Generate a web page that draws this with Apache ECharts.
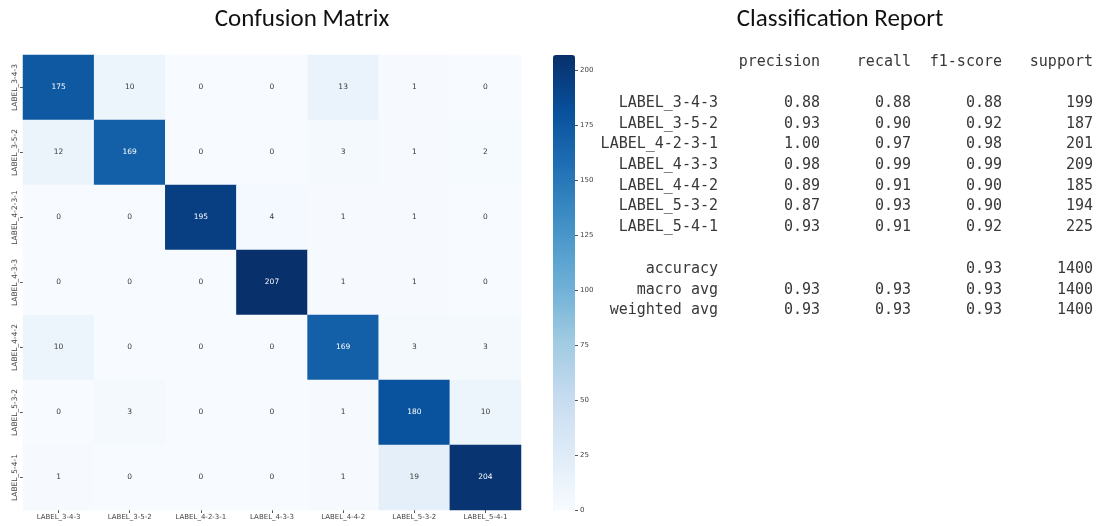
<!DOCTYPE html>
<html>
<head>
<meta charset="utf-8">
<script src="https://cdn.jsdelivr.net/npm/echarts@6/dist/echarts.min.js"></script>
<style>
  html, body { margin: 0; padding: 0; background: #fff; }
  #chart { width: 1100px; height: 526px; }
</style>
</head>
<body>
<div id="chart"></div>
<script>
// Class labels (rows = true label, columns = predicted label)
const categories = ['LABEL_3-4-3', 'LABEL_3-5-2', 'LABEL_4-2-3-1', 'LABEL_4-3-3', 'LABEL_4-4-2', 'LABEL_5-3-2', 'LABEL_5-4-1'];

// Confusion matrix counts, one row per true label
const confusionRows = [
  [175, 10, 0, 0, 13, 1, 0],
  [12, 169, 0, 0, 3, 1, 2],
  [0, 0, 195, 4, 1, 1, 0],
  [0, 0, 0, 207, 1, 1, 0],
  [10, 0, 0, 0, 169, 3, 3],
  [0, 3, 0, 0, 1, 180, 10],
  [1, 0, 0, 0, 1, 19, 204]
];

// Colour bar range and tick step (ticks 0, 25, ... 200)
const colorMin = 0;
const colorMax = 207;
const colorbarStep = 25;

// Classification report
const reportHeaders = ['precision', 'recall', 'f1-score', 'support'];
const precision = [0.88, 0.93, 1.00, 0.98, 0.89, 0.87, 0.93];
const recall    = [0.88, 0.90, 0.97, 0.99, 0.91, 0.93, 0.91];
const f1Score   = [0.88, 0.92, 0.98, 0.99, 0.90, 0.90, 0.92];
const support   = [199, 187, 201, 209, 185, 194, 225];
const summaryLabels    = ['accuracy', 'macro avg', 'weighted avg'];
const summaryPrecision = [null, 0.93, 0.93];
const summaryRecall    = [null, 0.93, 0.93];
const summaryF1        = [0.93, 0.93, 0.93];
const summarySupport   = [1400, 1400, 1400];

// matplotlib "Blues" colour stops
const blues = ['#f7fbff', '#deebf7', '#c6dbef', '#9ecae1', '#6baed6', '#4292c6', '#2171b5', '#08519c', '#08306b'];

const heatData = [];
confusionRows.forEach((row, r) => {
  row.forEach((v, c) => {
    heatData.push({
      value: [c, r, v],
      label: { color: v > colorMax / 2 ? '#ffffff' : '#3a3a3a' }
    });
  });
});

const axisFont = 'DejaVu Sans, sans-serif';
const monoFont = 'DejaVu Sans Mono, Liberation Mono, monospace';
const titleFont = 'Carlito, Lato, sans-serif';
const tickStyle = { color: '#555', width: 1 };

// Report text layout
const reportText = [];
const colRight = [820, 911, 1002, 1093];
const labelRight = 718;
const reportStyle = (text, x, y) => ({
  type: 'text', x: x, y: y,
  style: { text: text, font: '15px ' + monoFont, fill: '#383838', align: 'right', verticalAlign: 'middle' },
  silent: true
});
reportHeaders.forEach((h, i) => reportText.push(reportStyle(h, colRight[i], 62)));
categories.forEach((lab, i) => {
  const y = 103 + i * 20.7;
  reportText.push(reportStyle(lab, labelRight, y));
  reportText.push(reportStyle(precision[i].toFixed(2), colRight[0], y));
  reportText.push(reportStyle(recall[i].toFixed(2), colRight[1], y));
  reportText.push(reportStyle(f1Score[i].toFixed(2), colRight[2], y));
  reportText.push(reportStyle(String(support[i]), colRight[3], y));
});
summaryLabels.forEach((lab, i) => {
  const y = 269 + i * 20.7;
  reportText.push(reportStyle(lab, labelRight, y));
  if (summaryPrecision[i] !== null) reportText.push(reportStyle(summaryPrecision[i].toFixed(2), colRight[0], y));
  if (summaryRecall[i] !== null) reportText.push(reportStyle(summaryRecall[i].toFixed(2), colRight[1], y));
  reportText.push(reportStyle(summaryF1[i].toFixed(2), colRight[2], y));
  reportText.push(reportStyle(String(summarySupport[i]), colRight[3], y));
});

const titleStyle = (text, x) => ({
  type: 'text', x: x, y: 20,
  style: {
    text: text, font: '25px ' + titleFont, fill: '#111', align: 'center', verticalAlign: 'middle',
    shadowColor: 'rgba(0,0,0,0.45)', shadowBlur: 3, shadowOffsetX: 1, shadowOffsetY: 2
  },
  silent: true
});

const chart = echarts.init(document.getElementById('chart'), null, { renderer: 'canvas' });
chart.setOption({
  animation: false,
  backgroundColor: '#ffffff',
  grid: [
    { left: 23, top: 55, width: 498, height: 455 },
    { left: 553, top: 55, width: 22, height: 455 }
  ],
  xAxis: [
    {
      type: 'category', gridIndex: 0, data: categories, position: 'bottom',
      axisLine: { show: false },
      axisTick: { show: true, alignWithLabel: true, length: 3, lineStyle: tickStyle },
      axisLabel: { fontSize: 7, fontFamily: axisFont, color: '#444', margin: 4, interval: 0 },
      splitLine: { show: false }
    },
    { type: 'value', gridIndex: 1, show: false, min: 0, max: 1 }
  ],
  yAxis: [
    {
      type: 'category', gridIndex: 0, data: categories, inverse: true,
      axisLine: { show: false },
      axisTick: { show: true, alignWithLabel: true, length: 3, lineStyle: tickStyle },
      axisLabel: { fontSize: 7.5, fontFamily: axisFont, color: '#444', rotate: 90, margin: 4, interval: 0 },
      splitLine: { show: false }
    },
    {
      type: 'value', gridIndex: 1, position: 'right', min: colorMin, max: colorMax, interval: colorbarStep,
      axisLine: { show: false, onZero: false },
      axisTick: { show: true, length: 3, lineStyle: tickStyle },
      axisLabel: { fontSize: 7, fontFamily: axisFont, color: '#444', margin: 5, showMaxLabel: false },
      splitLine: { show: false }
    }
  ],
  visualMap: {
    type: 'continuous', seriesIndex: 0, min: colorMin, max: colorMax,
    calculable: false, orient: 'vertical', left: 553, top: 55,
    itemWidth: 22, itemHeight: 455, padding: 0, text: null, showLabel: false,
    inRange: { color: blues }
  },
  series: [{
    type: 'heatmap', xAxisIndex: 0, yAxisIndex: 0, data: heatData,
    label: { show: true, fontSize: 7.5, fontFamily: axisFont },
    itemStyle: { borderWidth: 0 },
    emphasis: { disabled: true }
  }],
  graphic: [
    titleStyle('Confusion Matrix', 302),
    titleStyle('Classification Report', 840),
    ...reportText
  ]
});
</script>
</body>
</html>
